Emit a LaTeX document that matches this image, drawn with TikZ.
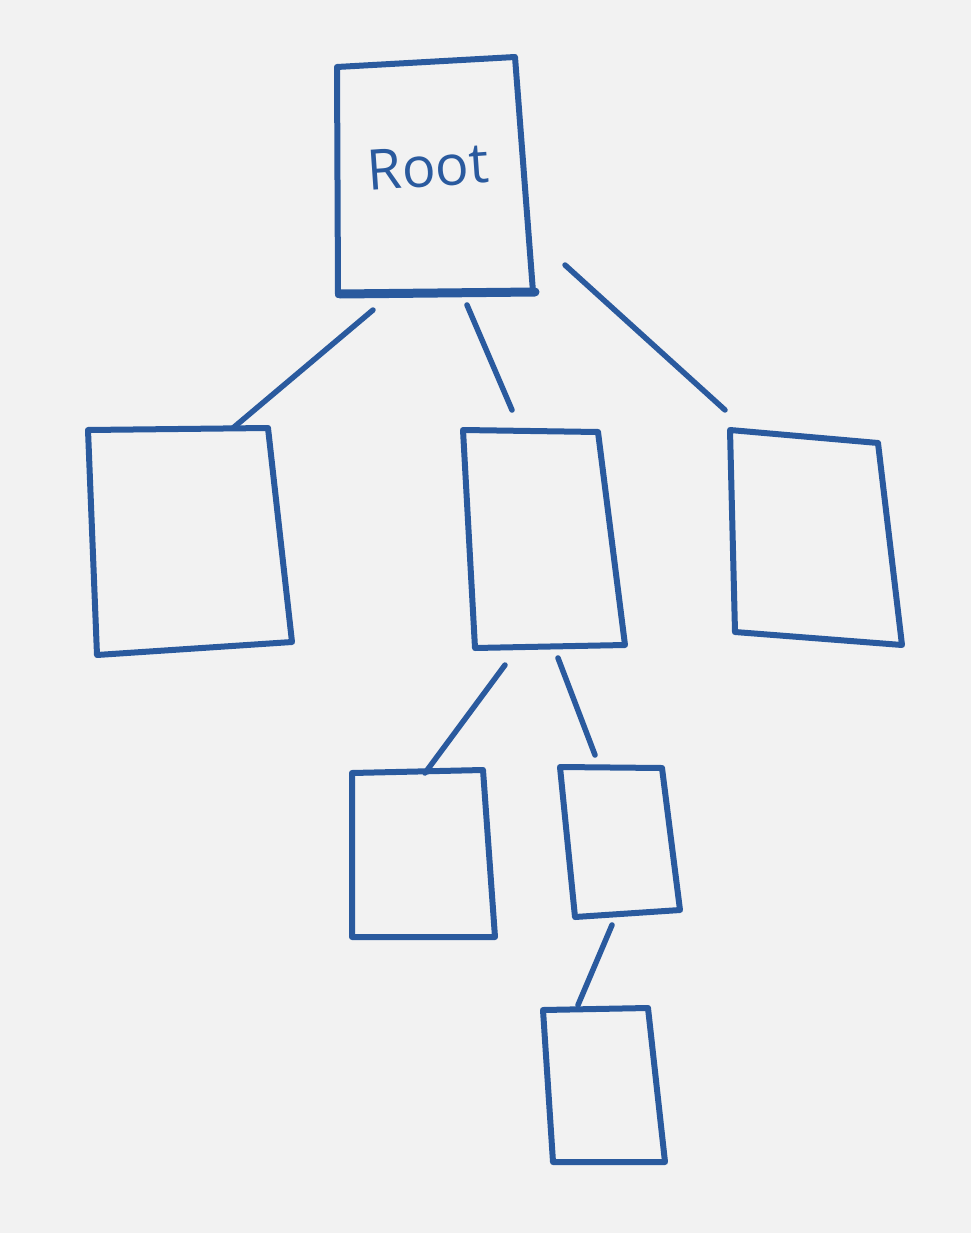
\documentclass[tikz,border=0pt]{standalone}
\usepackage{fontspec}
\setsansfont{Open Sans}
\definecolor{pen}{HTML}{2A5A9E}
\definecolor{paper}{HTML}{F2F2F2}
\begin{document}
\begin{tikzpicture}[x=1pt,y=-1pt,
  box/.style={draw=pen,line width=6pt,line join=round,line cap=round},
  link/.style={draw=pen,line width=5.5pt,line cap=round},
  label/.style={text=pen,font=\sffamily\fontsize{56}{56}\selectfont}]
\fill[paper] (0,0) rectangle (971,1233);
\useasboundingbox (0,0) rectangle (971,1233);
% boxes
\draw[box] (337,67) -- (515,57) -- (533,292) -- (338,295) -- cycle;
\draw[pen,line width=9pt,line cap=round] (340,294) -- (535,292);
\draw[box] (88,430) -- (268,428) -- (292,642) -- (97,655) -- cycle;
\draw[box] (463,430) -- (598,432) -- (625,645) -- (475,648) -- cycle;
\draw[box] (730,430) -- (878,443) -- (902,645) -- (735,632) -- cycle;
\draw[box] (352,773) -- (483,770) -- (495,937) -- (352,937) -- cycle;
\draw[box] (560,767) -- (662,768) -- (680,910) -- (575,917) -- cycle;
\draw[box] (543,1010) -- (648,1008) -- (665,1162) -- (553,1162) -- cycle;
% node names
\node[label,rotate=4] (root) at (428,167) {Root};
\coordinate (a) at (180,540);
\coordinate (b) at (545,540);
\coordinate (c) at (815,538);
\coordinate (d) at (420,855);
\coordinate (e) at (618,840);
\coordinate (f) at (603,1085);
% connector ends
\coordinate (r1) at (373,310);
\coordinate (a1) at (233,428);
\coordinate (r2) at (467,305);
\coordinate (b1) at (512,410);
\coordinate (r3) at (565,265);
\coordinate (c1) at (725,410);
\coordinate (b2) at (505,665);
\coordinate (d1) at (425,773);
\coordinate (b3) at (558,658);
\coordinate (e1) at (595,755);
\coordinate (e2) at (612,925);
\coordinate (f1) at (578,1005);
\draw[link] (r1) -- (a1);
\draw[link] (r2) -- (b1);
\draw[link] (r3) -- (c1);
\draw[link] (b2) -- (d1);
\draw[link] (b3) -- (e1);
\draw[link] (e2) -- (f1);
\end{tikzpicture}
\end{document}
